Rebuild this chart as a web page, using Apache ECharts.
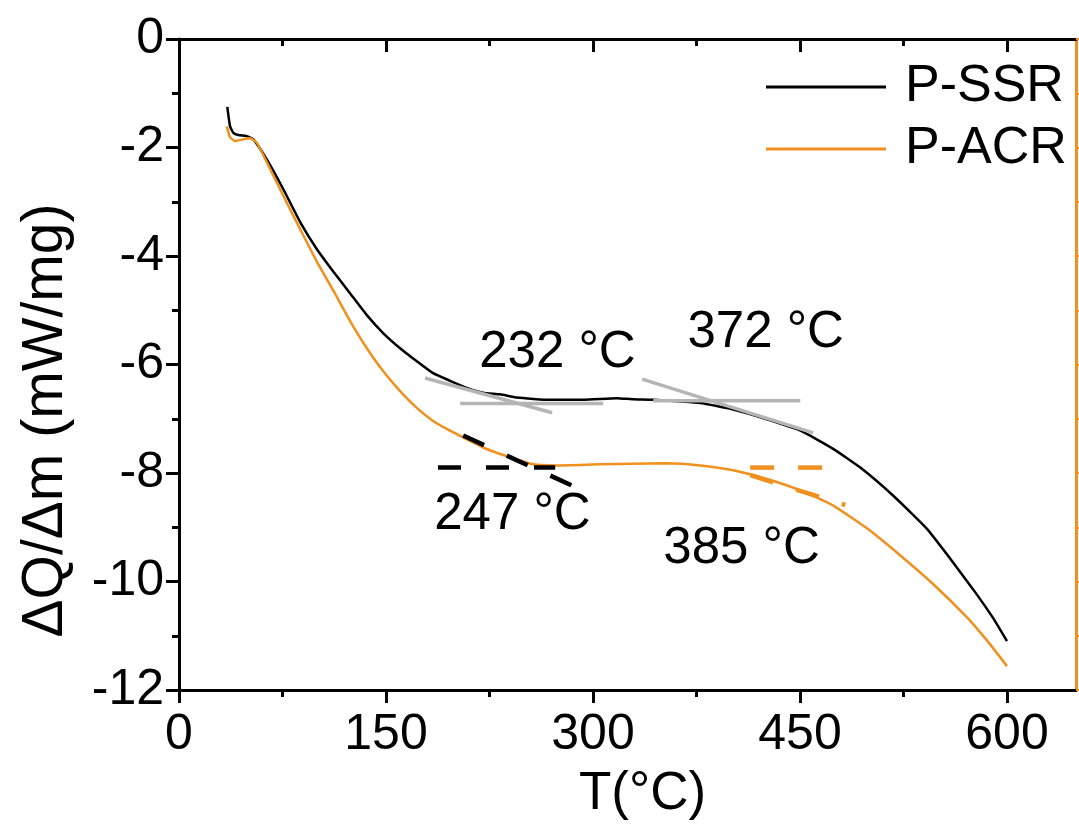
<!DOCTYPE html>
<html>
<head>
<meta charset="utf-8">
<script src="https://cdn.jsdelivr.net/npm/echarts@6/dist/echarts.min.js"></script>
<style>html,body{margin:0;padding:0;background:#fff;}#c{width:1079px;height:826px;}</style>
</head>
<body>
<div id="c"></div>
<script>
// ---- data ----
const xTicksMajor = [0, 150, 300, 450, 600];
const xTicksMinor = [75, 225, 375, 525];
const seriesNames = ['P-SSR', 'P-ACR'];

const ssrT = [35.0, 37.0, 39.4, 43.0, 49.1, 53.9, 63.6, 75.6, 87.7, 99.8, 111.9, 124.0, 136.1, 147.9, 160.2, 172.3, 184.1, 196.4, 208.6, 220.4, 232.7, 244.8, 268.9, 292.9, 317.3, 329.1, 343.6, 377.7, 401.6, 426.0, 450.4, 474.3, 493.7, 517.6, 542.0, 558.9, 575.6, 590.1, 600.0];
const ssrQ = [-1.25, -1.61, -1.73, -1.77, -1.79, -1.85, -2.22, -2.77, -3.37, -3.87, -4.29, -4.69, -5.09, -5.42, -5.70, -5.94, -6.16, -6.30, -6.43, -6.52, -6.55, -6.61, -6.65, -6.65, -6.62, -6.64, -6.65, -6.71, -6.83, -7.01, -7.22, -7.56, -7.90, -8.42, -9.03, -9.58, -10.15, -10.68, -11.10];

const acrT = [34.6, 37.0, 40.6, 46.4, 51.5, 56.3, 63.6, 75.6, 87.7, 99.8, 111.9, 124.0, 136.1, 147.9, 160.2, 172.3, 184.1, 196.4, 208.6, 220.4, 232.7, 239.9, 256.6, 273.8, 305.2, 353.5, 377.7, 401.6, 426.0, 450.2, 474.1, 498.5, 522.7, 546.6, 571.0, 585.6, 600.0];
const acrQ = [-1.61, -1.81, -1.88, -1.85, -1.83, -1.91, -2.27, -2.89, -3.50, -4.10, -4.64, -5.20, -5.70, -6.12, -6.49, -6.80, -7.04, -7.22, -7.38, -7.53, -7.65, -7.71, -7.84, -7.86, -7.84, -7.82, -7.86, -7.95, -8.11, -8.32, -8.60, -9.02, -9.52, -10.05, -10.66, -11.09, -11.56];

// tangent construction lines: [x1, y1, x2, y2]
const grayTangents = [
  [178.3, -6.25, 270.4, -6.89],
  [203.7, -6.72, 307.4, -6.72],
  [343.6, -6.67, 450.2, -6.67],
  [335.6, -6.27, 459.6, -7.26]
];
const blackDashTangents = [
  [187.7, -7.90, 272.6, -7.90],
  [205.9, -7.31, 290.7, -8.30]
];
const orangeDashTangents = [
  [413.9, -7.90, 466.1, -7.90],
  [413.9, -8.04, 482.8, -8.59]
];

// onset annotations: [x, y, text]
const onsetLabels = [
  [274.6, -5.79, '232 °C'],
  [425.5, -5.42, '372 °C'],
  [242.0, -8.78, '247 °C'],
  [408.0, -9.40, '385 °C']
];

// ---- build ----
const BLACK = '#000000';
const ORANGE = '#F0901E';
const GRAY = '#B5B5B5';
const FONT = "'Liberation Sans', Arial, sans-serif";

function pairs(xs, ys) { return xs.map((x, i) => [x, ys[i]]); }
function segSeries(seg, color, width, type) {
  return {
    type: 'line', silent: true, symbol: 'none', animation: false,
    data: [[seg[0], seg[1]], [seg[2], seg[3]]],
    lineStyle: { color: color, width: width, type: type },
    z: 5
  };
}

const series = [
  { name: seriesNames[0], type: 'line', symbol: 'none', smooth: 0.15, data: pairs(ssrT, ssrQ),
    lineStyle: { color: BLACK, width: 2.5 }, itemStyle: { color: BLACK }, z: 3 },
  { name: seriesNames[1], type: 'line', symbol: 'none', smooth: 0.15, data: pairs(acrT, acrQ),
    lineStyle: { color: ORANGE, width: 2.5 }, itemStyle: { color: ORANGE }, z: 3 }
];
grayTangents.forEach(s => series.push(segSeries(s, GRAY, 3.5, 'solid')));
blackDashTangents.forEach(s => series.push(segSeries(s, BLACK, 4.5, [23, 25])));
orangeDashTangents.forEach(s => series.push(segSeries(s, ORANGE, 4.5, [24, 24])));
series.push({
  type: 'scatter', symbolSize: 1, silent: true, animation: false, z: 6,
  itemStyle: { opacity: 0 },
  data: onsetLabels.map(d => ({ value: [d[0], d[1]], name: d[2] })),
  label: { show: true, position: [0, 0], align: 'center', verticalAlign: 'middle',
           formatter: p => p.name, opacity: 1,
           color: '#000', fontSize: 51, fontFamily: FONT }
});

const lineBlack = { show: true, onZero: false, lineStyle: { color: BLACK, width: 3 } };
const common = { min: 0, max: 650, type: 'value', splitLine: { show: false } };
const option = {
  backgroundColor: '#ffffff',
  animation: false,
  grid: { left: 179, right: 3, top: 39, bottom: 132, containLabel: false },
  legend: {
    data: seriesNames, orient: 'vertical', left: 766, top: 61, padding: 0,
    icon: 'rect', itemWidth: 120, itemHeight: 3, itemGap: 10,
    textStyle: { fontSize: 52, fontFamily: FONT, color: '#000', lineHeight: 52, padding: [0, 0, 0, 14] }
  },
  xAxis: [
    Object.assign({}, common, {
      position: 'bottom', interval: 150,
      name: 'T(°C)', nameLocation: 'middle', nameGap: 78,
      nameTextStyle: { fontSize: 53, fontFamily: FONT, color: '#000', padding: [0, 0, 0, 30] },
      axisLine: lineBlack,
      axisTick: { show: true, inside: false, length: 13, customValues: xTicksMajor, lineStyle: { color: BLACK, width: 3 } },
      axisLabel: { show: true, customValues: xTicksMajor, margin: 20, fontSize: 50, fontFamily: FONT, color: '#000' }
    }),
    Object.assign({}, common, {
      position: 'bottom',
      axisLine: { show: false, onZero: false },
      axisTick: { show: true, inside: false, length: 7, customValues: xTicksMinor, lineStyle: { color: BLACK, width: 3 } },
      axisLabel: { show: false }
    }),
    Object.assign({}, common, {
      position: 'top',
      axisLine: lineBlack,
      axisTick: { show: true, inside: true, length: 13, customValues: xTicksMajor, lineStyle: { color: BLACK, width: 3 } },
      axisLabel: { show: false }
    }),
    Object.assign({}, common, {
      position: 'top',
      axisLine: { show: false, onZero: false },
      axisTick: { show: true, inside: true, length: 7, customValues: xTicksMinor, lineStyle: { color: BLACK, width: 3 } },
      axisLabel: { show: false }
    })
  ],
  yAxis: [
    {
      type: 'value', min: -12, max: 0, interval: 2, position: 'left',
      splitLine: { show: false },
      name: 'ΔQ/Δm (mW/mg)', nameLocation: 'middle', nameGap: 104, nameRotate: 90,
      nameTextStyle: { fontSize: 57, fontFamily: FONT, color: '#000', padding: [0, 112, 0, 0] },
      axisLine: lineBlack,
      axisTick: { show: true, inside: false, length: 13, lineStyle: { color: BLACK, width: 3 } },
      minorTick: { show: true, splitNumber: 2, length: 7, lineStyle: { color: BLACK, width: 3 } },
      axisLabel: { show: true, margin: 15, fontSize: 50, fontFamily: FONT, color: '#000' }
    },
    {
      type: 'value', min: -12, max: 0, interval: 1, position: 'right',
      splitLine: { show: false },
      axisLine: { show: true, onZero: false, lineStyle: { color: ORANGE, width: 3 } },
      axisTick: { show: true, inside: false, length: 8, lineStyle: { color: ORANGE, width: 2 } },
      axisLabel: { show: false }
    }
  ],
  series: series
};

const chart = echarts.init(document.getElementById('c'), null, { renderer: 'canvas' });
chart.setOption(option);
</script>
</body>
</html>
